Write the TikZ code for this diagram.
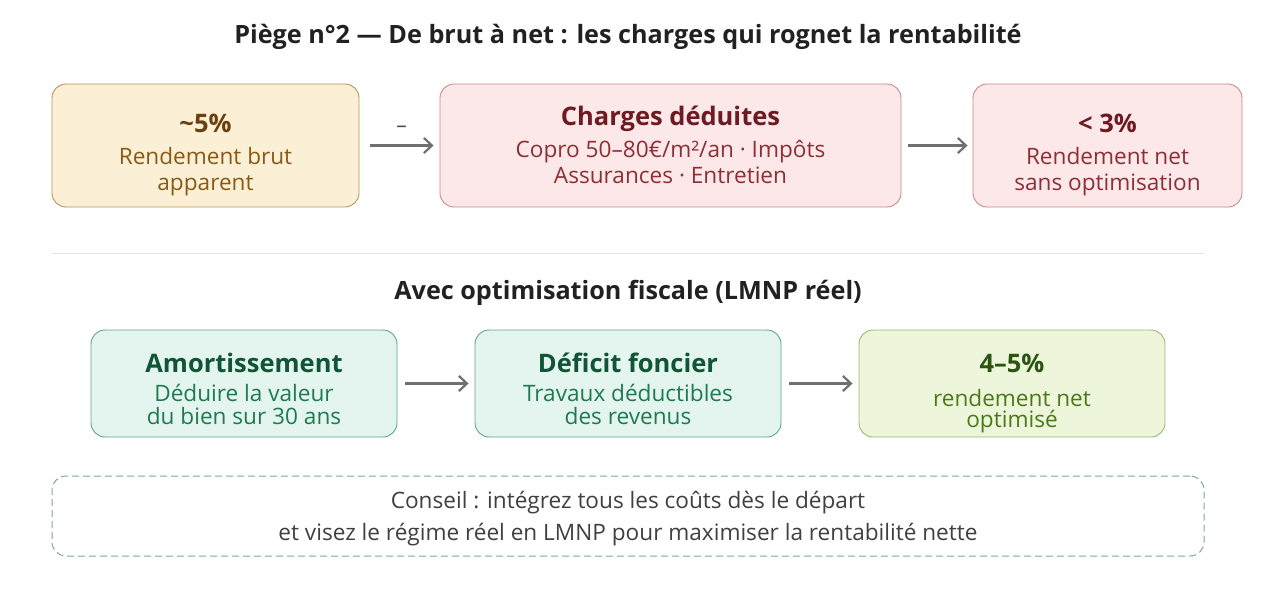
\documentclass[tikz,border=0pt]{standalone}
\usepackage{fontspec}
\setmainfont{Open Sans}
\usetikzlibrary{arrows.meta}
\definecolor{ybg}{HTML}{FBEFD6}
\definecolor{ybd}{HTML}{B8965A}
\definecolor{ytt}{HTML}{6B4010}
\definecolor{ytx}{HTML}{8A5A14}
\definecolor{rbg}{HTML}{FCE8E8}
\definecolor{rbd}{HTML}{C98A8C}
\definecolor{rtt}{HTML}{6E1A22}
\definecolor{rtx}{HTML}{8E2F37}
\definecolor{gbg}{HTML}{E3F5EE}
\definecolor{gbd}{HTML}{5FA886}
\definecolor{gtt}{HTML}{0F5536}
\definecolor{gtx}{HTML}{1E7A50}
\definecolor{lbg}{HTML}{EDF5DB}
\definecolor{lbd}{HTML}{9BB96A}
\definecolor{ltt}{HTML}{2A5410}
\definecolor{ltx}{HTML}{4A7A18}
\definecolor{arr}{HTML}{707070}
\definecolor{dsh}{HTML}{7FA89A}
\tikzset{
  card/.style={draw, line width=0.9pt, rounded corners=14pt, inner sep=0pt},
  ttl/.style={font=\fontsize{25.5}{30}\selectfont\bfseries, inner sep=0pt, anchor=base},
  bdy/.style={font=\fontsize{22.6}{27}\selectfont, inner sep=0pt, anchor=base},
  hdr/.style={font=\fontsize{25.2}{30}\selectfont\bfseries, text=black!87, inner sep=0pt, anchor=base},
  flow/.style={draw=arr, line width=2.2pt, -{Straight Barb[length=8pt,width=15pt,line width=2.2pt]}}
}
\begin{document}
\begin{tikzpicture}[x=1pt,y=-1pt]
\useasboundingbox[fill=white] (0,0) rectangle (1280,602);
\node[hdr] (title) at (628,44) {Piège n°2 — De brut à net : les charges qui rognet la rentabilité};
% row 1
\node[card, draw=ybd, fill=ybg, minimum width=307pt, minimum height=123pt] (b1) at (205.5,145.5) {};
\node[ttl, text=ytt] (b1t) at (205.5,132) {\textasciitilde5\%};
\node[bdy, text=ytx] (b1a) at (205.5,164) {Rendement brut};
\node[bdy, text=ytx] (b1b) at (205.5,190) {apparent};
\node[card, draw=rbd, fill=rbg, minimum width=461pt, minimum height=123pt] (b2) at (670.5,145.5) {};
\node[ttl, text=rtt] (b2t) at (670.5,125) {Charges déduites};
\node[bdy, text=rtx] (b2a) at (670.5,157) {Copro 50–80€/m²/an · Impôts};
\node[bdy, text=rtx] (b2b) at (670.5,183) {Assurances · Entretien};
\node[card, draw=rbd, fill=rbg, minimum width=269pt, minimum height=123pt] (b3) at (1107.5,145.5) {};
\node[ttl, text=rtt] (b3t) at (1107.5,132) {< 3\%};
\node[bdy, text=rtx] (b3a) at (1107.5,164) {Rendement net};
\node[bdy, text=rtx] (b3b) at (1107.5,190) {sans optimisation};
\draw[flow] ([xshift=-70pt]b2.west) -- ([xshift=-6pt]b2.west) node[midway, above=12pt, text=black!70, font=\fontsize{21}{22}\selectfont, inner sep=0pt] (minus) {–};
\draw[flow] ([xshift=7pt]b2.east) -- ([xshift=-5pt]b3.west);
% separator
\coordinate (s1) at (52,253);
\coordinate (s2) at (1204,253);
\draw[black!10, line width=0.8pt] (s1) -- (s2);
\node[hdr] (sub) at (628,299) {Avec optimisation fiscale (LMNP réel)};
% row 2
\node[card, draw=gbd, fill=gbg, minimum width=306pt, minimum height=107pt] (c1) at (244,383.5) {};
\node[ttl, text=gtt] (c1t) at (244,372) {Amortissement};
\node[bdy, text=gtx] (c1a) at (244,401) {Déduire la valeur};
\node[bdy, text=gtx] (c1b) at (244,424) {du bien sur 30 ans};
\node[card, draw=gbd, fill=gbg, minimum width=306pt, minimum height=107pt] (c2) at (628,383.5) {};
\node[ttl, text=gtt] (c2t) at (628,372) {Déficit foncier};
\node[bdy, text=gtx] (c2a) at (628,401) {Travaux déductibles};
\node[bdy, text=gtx] (c2b) at (628,424) {des revenus};
\node[card, draw=lbd, fill=lbg, minimum width=306pt, minimum height=107pt] (c3) at (1012,383.5) {};
\node[ttl, text=ltt] (c3t) at (1012,372) {4–5\%};
\node[bdy, text=ltx] (c3a) at (1012,406) {rendement net};
\node[bdy, text=ltx] (c3b) at (1012,427) {optimisé};
\draw[flow] ([xshift=8pt]c1.east) -- ([xshift=-6pt]c2.west);
\draw[flow] ([xshift=8pt]c2.east) -- ([xshift=-6pt]c3.west);
% advice
\node[draw=dsh, dash pattern=on 7pt off 4pt, line width=1pt, rounded corners=14pt, minimum width=1152pt, minimum height=80pt, inner sep=0pt] (tip) at (628,516) {};
\node[bdy, text=black!75] (tipa) at (628,508) {Conseil : intégrez tous les coûts dès le départ};
\node[bdy, text=black!75] (tipb) at (628,540) {et visez le régime réel en LMNP pour maximiser la rentabilité nette};
\end{tikzpicture}
\end{document}
